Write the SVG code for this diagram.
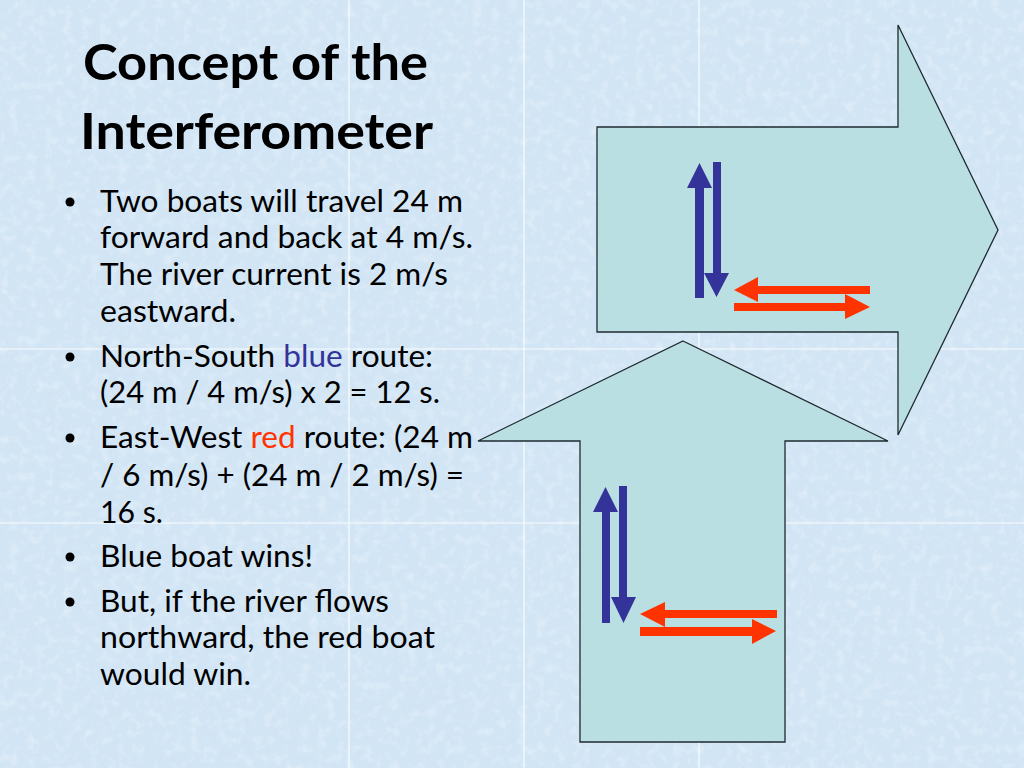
<svg xmlns="http://www.w3.org/2000/svg" width="1024" height="768" viewBox="0 0 1024 768">
<defs>
<filter id="tex" x="0" y="0" width="100%" height="100%">
<feTurbulence type="fractalNoise" baseFrequency="0.11" numOctaves="3" seed="4" result="n"/>
<feColorMatrix in="n" type="matrix" values="0 0 0 0 1  0 0 0 0 1  0 0 0 0 1  0 0 0 1.5 -0.7"/>
</filter>
<style>
.big{fill:#BADFE2;stroke:#1f2a30;stroke-width:1.3;stroke-linejoin:miter}
.blue{fill:#333399}
.red{fill:#FF3300}
.seam{stroke:#ffffff;stroke-width:1.2;opacity:0.85}
.body{font-family:Lato,"Open Sans","Liberation Sans",sans-serif;font-size:31px;fill:#000}
.title{font-family:Lato,"Open Sans","Liberation Sans",sans-serif;font-size:50px;font-weight:bold;fill:#000}
.dot{fill:#000}
</style>
</defs>
<g id="background">
<rect x="0" y="0" width="1024" height="768" fill="#D2E5F5"/>
<rect x="0" y="0" width="1024" height="768" filter="url(#tex)" opacity="0.45"/>
<line class="seam" x1="349" y1="0" x2="349" y2="768"/>
<line class="seam" x1="524" y1="0" x2="524" y2="768"/>
<line class="seam" x1="699" y1="0" x2="699" y2="768"/>
<line class="seam" x1="0" y1="349" x2="1024" y2="349"/>
<line class="seam" x1="0" y1="523" x2="1024" y2="523"/>
</g>
<g id="title">
<text class="title" x="83" y="80" textLength="345" lengthAdjust="spacingAndGlyphs">Concept of the</text>
<text class="title" x="80" y="149" textLength="353" lengthAdjust="spacingAndGlyphs">Interferometer</text>
</g>
<g id="bullets">
<circle class="dot" cx="70" cy="202" r="4.5"/>
<circle class="dot" cx="70" cy="357" r="4.5"/>
<circle class="dot" cx="70" cy="438" r="4.5"/>
<circle class="dot" cx="70" cy="557" r="4.5"/>
<circle class="dot" cx="70" cy="602" r="4.5"/>
<text class="body" x="100" y="212" textLength="363" lengthAdjust="spacingAndGlyphs">Two boats will travel 24 m</text>
<text class="body" x="100" y="248" textLength="373" lengthAdjust="spacingAndGlyphs">forward and back at 4 m/s.</text>
<text class="body" x="100" y="285" textLength="348" lengthAdjust="spacingAndGlyphs">The river current is 2 m/s</text>
<text class="body" x="100" y="322" textLength="136" lengthAdjust="spacingAndGlyphs">eastward.</text>
<text class="body" x="100" y="367" textLength="333" lengthAdjust="spacingAndGlyphs">North-South <tspan fill="#333399">blue</tspan> route:</text>
<text class="body" x="100" y="403" textLength="340" lengthAdjust="spacingAndGlyphs">(24 m / 4 m/s) x 2 = 12 s.</text>
<text class="body" x="100" y="448" textLength="373" lengthAdjust="spacingAndGlyphs">East-West <tspan fill="#FF3300">red</tspan> route: (24 m</text>
<text class="body" x="100" y="486" textLength="364" lengthAdjust="spacingAndGlyphs">/ 6 m/s) + (24 m / 2 m/s) =</text>
<text class="body" x="100" y="523" textLength="63" lengthAdjust="spacingAndGlyphs">16 s.</text>
<text class="body" x="100" y="567" textLength="213" lengthAdjust="spacingAndGlyphs">Blue boat wins!</text>
<text class="body" x="100" y="612" textLength="289" lengthAdjust="spacingAndGlyphs">But, if the river flows</text>
<text class="body" x="100" y="648" textLength="335" lengthAdjust="spacingAndGlyphs">northward, the red boat</text>
<text class="body" x="100" y="685" textLength="151" lengthAdjust="spacingAndGlyphs">would win.</text>
</g>
<g id="arrow-east">
<polygon class="big" points="597,127 898,127 898,25 998,230 898,435 898,332 597,332"/>
</g>
<g id="arrow-north">
<polygon class="big" points="683,341 888,441 785,441 785,742 580,742 580,441 478,441"/>
</g>
<g id="boats-top">
<polygon class="blue" points="699.5,163 712,188 704,188 704,298 695,298 695,188 687,188"/>
<polygon class="blue" points="713,162 721,162 721,273 729,273 716.5,297 704,273 713,273"/>
<polygon class="red" points="734,290 758,277 758,286 870,286 870,294 758,294 758,302"/>
<polygon class="red" points="734,303 845,303 845,294 870,307 845,319 845,311 734,311"/>
</g>
<g id="boats-bottom">
<polygon class="blue" points="605.5,487 618,512 610,512 610,623 602,623 602,512 593,512"/>
<polygon class="blue" points="619,486 627,486 627,597 636,597 623.5,623 611,597 619,597"/>
<polygon class="red" points="640,614 665,602 665,610 777,610 777,618 665,618 665,627"/>
<polygon class="red" points="640,627 752,627 752,619 776,631 752,644 752,636 640,636"/>
</g>
</svg>
